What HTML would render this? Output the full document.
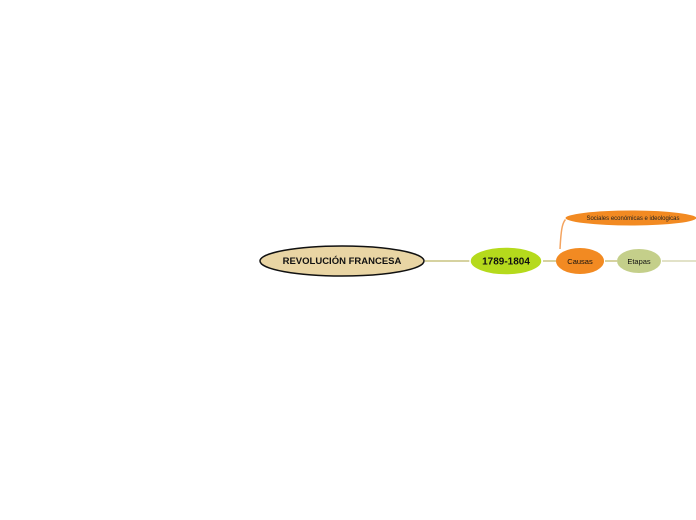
<!DOCTYPE html>
<html><head><style>body{margin:0;background:#fff;}svg{display:block}</style></head>
<body>
<svg width="696" height="520" xmlns="http://www.w3.org/2000/svg" font-family="Liberation Sans, sans-serif">
<g stroke="#d6d2a0" stroke-width="2" fill="none">
<line x1="425" y1="261" x2="470" y2="261"/>
<line x1="543" y1="261" x2="556" y2="261"/>
<line x1="605" y1="261" x2="617" y2="261"/>
<line x1="662" y1="261" x2="696" y2="261" stroke="#e2e2c8"/>
</g>
<path d="M560 249 C561 230 562 218 570 217" stroke="#f4a460" stroke-width="1.5" fill="none"/>
<ellipse cx="631" cy="218" rx="66" ry="8" fill="#f28a22" stroke="#fff" stroke-width="1"/>
<text x="633" y="220" font-size="6" text-anchor="middle" fill="#222">Sociales económicas e ideologicas</text>
<ellipse cx="342" cy="261" rx="82" ry="15" fill="#e9d5a4" stroke="#111" stroke-width="1.5"/>
<text x="342" y="264" font-size="9.5" font-weight="bold" text-anchor="middle" fill="#111">REVOLUCIÓN FRANCESA</text>
<ellipse cx="506" cy="261" rx="36" ry="14" fill="#b5da1c" stroke="#fff" stroke-width="1.5"/>
<text x="506" y="264.5" font-size="10" font-weight="bold" text-anchor="middle" fill="#111">1789-1804</text>
<ellipse cx="580" cy="261" rx="24" ry="13" fill="#f28a22"/>
<text x="580" y="264" font-size="7.5" text-anchor="middle" fill="#111">Causas</text>
<ellipse cx="639" cy="261" rx="22" ry="12" fill="#c4cf8a"/>
<text x="639" y="264" font-size="7.5" text-anchor="middle" fill="#111">Etapas</text>
</svg>
</body></html>
